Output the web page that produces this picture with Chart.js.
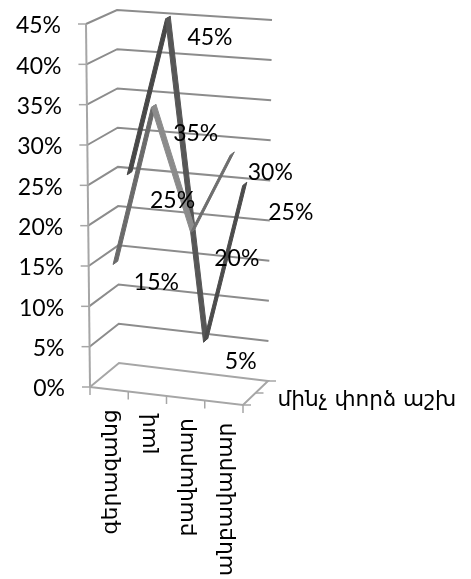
<!DOCTYPE html>
<html>
<head>
<meta charset="utf-8">
<style>
    html, body { margin: 0; padding: 0; background: #fff; }
    canvas { display: block; }
</style>
<script src="https://cdn.jsdelivr.net/npm/chart.js@4/dist/chart.umd.min.js"></script>
</head>
<body>
<canvas id="chart" width="471" height="579"></canvas>
<script>
const categories = ['գերազանց', 'լավ', 'բավարար', 'անբավարար'];
const frontSeries = [15, 35, 20, 30];
const backSeries = [25, 45, 5, 25];
const valueTicks = [0, 5, 10, 15, 20, 25, 30, 35, 40, 45];
const depthLabel = 'մինչ փորձ աշխ';

// corners of the 3d box on screen
const box = {
    frontLeftLow: [90, 387], frontRightLow: [243, 405],
    backLeftLow: [119, 363], backRightLow: [268, 381],
    frontLeftTop: [86, 24], frontRightTop: [247, 38],
    backLeftTop: [117, 10], backRightTop: [272, 20]
};

// small shifts of each data label from its default spot
const frontLabelNudge = [[0, -4], [1, 4], [3, 4], [-3, -5]];
const backLabelNudge = [[2, 3], [1, -4], [-6, -3], [5, 5]];

const frontShades = ['#6a6a6a', '#8b8b8b', '#6e6e6e'];
const backShades = ['#484848', '#565656', '#4c4c4c'];
const gridColor = '#8c8c8c';
const axisColor = '#a6a6a6';
const labelFont = '23px Lato, "DejaVu Sans", sans-serif';
const armenianFont = '21.7px "DejaVu Sans", sans-serif';

const lerp = (a, b, t) => a + (b - a) * t;

// u = along categories, value = percent, w = depth, all mapped into the box
function project(u, value, w) {
    const v = value / 45;
    const axis = k => lerp(
        lerp(lerp(box.frontLeftLow[k], box.frontRightLow[k], u), lerp(box.backLeftLow[k], box.backRightLow[k], u), w),
        lerp(lerp(box.frontLeftTop[k], box.frontRightTop[k], u), lerp(box.backLeftTop[k], box.backRightTop[k], u), w),
        v
    );
    return { x: axis(0), y: axis(1) };
}

const categoryPos = i => (i + 0.5) / categories.length;

function outline(points, color, width) {
    return {
        data: points,
        showLine: true,
        borderColor: color,
        borderWidth: width,
        pointRadius: 0,
        fill: false
    };
}

function ribbons(values, depth, shades) {
    const out = [];
    const half = 0.08;
    for (let i = 0; i < values.length - 1; i++) {
        const u1 = categoryPos(i);
        const u2 = categoryPos(i + 1);
        const first = project(u1, values[i], depth - half);
        out.push({
            data: [
                first,
                project(u2, values[i + 1], depth - half),
                project(u2, values[i + 1], depth + half),
                project(u1, values[i], depth + half),
                first
            ],
            showLine: true,
            borderColor: shades[i],
            backgroundColor: shades[i],
            borderWidth: 1,
            pointRadius: 0,
            fill: 'shape'
        });
    }
    return out;
}

function buildDatasets() {
    const sets = [];

    // walls and gridlines
    valueTicks.forEach(tick => {
        if (tick > 0) {
            sets.push(outline([project(0, tick, 0), project(0, tick, 1), project(1, tick, 1)], gridColor, 2));
        }
        const start = project(0, tick, 0);
        sets.push(outline([{ x: start.x - 8, y: start.y }, start], axisColor, 1.5));
    });

    // floor
    sets.push(outline([
        project(0, 0, 0), project(0, 0, 1), project(1, 0, 1), project(1, 0, 0), project(0, 0, 0)
    ], axisColor, 2));
    sets.push(outline([project(0, 0, 0), project(0, 45, 0)], axisColor, 2));

    // category and depth ticks
    for (let i = 0; i <= categories.length; i++) {
        const p = project(i / categories.length, 0, 0);
        sets.push(outline([p, { x: p.x, y: p.y + 8 }], axisColor, 1.5));
    }
    [0, 0.5, 1].forEach(w => {
        const p = project(1, 0, w);
        sets.push(outline([p, { x: p.x + 8, y: p.y }], axisColor, 1.5));
    });

    sets.push(...ribbons(backSeries, 0.75, backShades));
    sets.push(...ribbons(frontSeries, 0.25, frontShades));

    // the library paints the first dataset last
    return sets.reverse();
}

const chartText = {
    id: 'chartText',
    afterDatasetsDraw(chart) {
        const ctx = chart.ctx;
        const sx = chart.scales.x;
        const sy = chart.scales.y;
        const toPixel = p => ({ x: sx.getPixelForValue(p.x), y: sy.getPixelForValue(p.y) });

        ctx.save();
        ctx.fillStyle = '#000';
        ctx.font = labelFont;

        // value axis
        ctx.textAlign = 'right';
        ctx.textBaseline = 'middle';
        valueTicks.forEach(tick => {
            const p = toPixel(project(0, tick, 0));
            ctx.fillText(tick + '%', p.x - 25, p.y + 2);
        });

        // data labels sit down and right of their point
        ctx.textAlign = 'center';
        const drawLabels = (values, depth, nudge) => values.forEach((value, i) => {
            const p = toPixel(project(categoryPos(i), value, depth));
            ctx.fillText(value + '%', p.x + 41 + nudge[i][0], p.y + 24 + nudge[i][1]);
        });
        drawLabels(frontSeries, 0.25, frontLabelNudge);
        drawLabels(backSeries, 0.75, backLabelNudge);

        // category labels read upwards
        ctx.font = armenianFont;
        ctx.textAlign = 'right';
        categories.forEach((name, i) => {
            const p = toPixel(project(categoryPos(i), 0, 0));
            ctx.save();
            ctx.translate(p.x + 2, p.y + 20);
            ctx.rotate(-Math.PI / 2);
            ctx.fillText(name, 0, 0);
            ctx.restore();
        });

        // depth axis label
        const d = toPixel(project(1, 0, 0.5));
        ctx.textAlign = 'left';
        ctx.fillText(depthLabel, d.x + 22, d.y + 7);
        ctx.restore();
    }
};

new Chart(document.getElementById('chart'), {
    type: 'scatter',
    data: { datasets: buildDatasets() },
    options: {
        responsive: false,
        animation: false,
        layout: { padding: 0 },
        elements: { line: { tension: 0 } },
        plugins: { legend: { display: false }, tooltip: { enabled: false } },
        scales: {
            x: { type: 'linear', display: false, min: 0, max: 471 },
            y: { type: 'linear', display: false, min: 0, max: 579, reverse: true }
        }
    },
    plugins: [chartText]
});
</script>
</body>
</html>
